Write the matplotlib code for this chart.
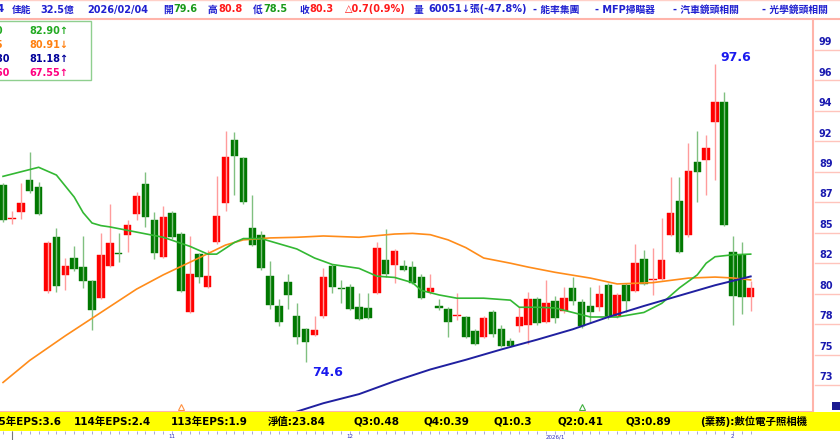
import matplotlib.pyplot as plt
from matplotlib.patches import Rectangle

plt.rcParams['font.family'] = ['DejaVu Sans', 'Noto Sans CJK TC']

# daily bars, oldest first; last bar is 2026/02/04
opens = [88.2, 85.6, 86.15, 88.6, 88.1, 80.05, 84.2, 81.3, 82.6, 81.9,
         80.8, 79.5, 82.0, 82.95, 84.4, 86.0, 88.3, 85.5, 82.7, 86.1,
         84.45, 78.4, 82.9, 80.4, 83.8, 86.85, 91.7, 90.3, 84.9, 84.4,
         81.2, 78.9, 80.75, 78.1, 77.1, 76.65, 78.1, 82.0, 80.25, 80.4,
         78.8, 78.75, 79.9, 82.45, 82.05, 82.0, 81.9, 81.1, 80.0, 78.9,
         78.7, 78.1, 78.05, 77.0, 76.5, 78.4, 77.1, 76.2, 77.35, 77.4,
         79.4, 77.7, 79.3, 78.5, 80.3, 79.2, 78.9, 78.8, 80.5, 78.1,
         80.5, 80.05, 82.5, 80.9, 81.0, 84.4, 87.0, 84.4, 90.0, 90.2,
         93.1, 94.6, 83.1, 82.8, 79.6]
highs = [88.4, 86.2, 88.4, 90.8, 88.5, 83.9, 84.9, 82.6, 83.5, 84.3,
         80.9, 84.5, 86.8, 84.5, 85.5, 87.7, 89.2, 86.15, 86.6, 86.2,
         84.6, 84.3, 83.0, 83.2, 88.9, 92.4, 92.3, 90.4, 87.5, 84.7,
         82.4, 79.4, 81.4, 79.1, 77.2, 78.1, 81.8, 82.1, 80.9, 80.6,
         79.9, 79.9, 83.8, 84.8, 83.3, 82.45, 82.4, 81.4, 81.4, 79.4,
         78.8, 79.9, 78.1, 77.1, 78.1, 78.6, 77.4, 76.4, 78.8, 80.0,
         79.6, 80.9, 79.7, 80.4, 81.1, 79.4, 80.4, 80.5, 80.7, 79.9,
         80.7, 83.7, 83.2, 83.4, 85.7, 88.85, 88.85, 91.5, 92.4, 92.1,
         97.6, 95.4, 84.3, 83.8, 80.8]
lows = [85.4, 85.2, 85.6, 87.6, 85.9, 79.9, 80.0, 80.1, 81.6, 80.3,
        77.05, 79.4, 81.9, 82.3, 83.1, 85.5, 85.0, 82.5, 82.6, 84.1,
        80.0, 78.35, 80.7, 80.3, 83.7, 86.2, 87.5, 86.8, 83.5, 81.7,
        78.7, 77.35, 78.7, 76.0, 74.6, 76.6, 78.0, 79.9, 79.1, 78.6,
        77.8, 77.9, 79.8, 81.1, 80.7, 81.6, 80.6, 79.4, 79.8, 78.6,
        76.5, 77.8, 76.4, 75.9, 76.4, 76.5, 75.7, 75.7, 76.9, 76.0,
        77.4, 77.6, 77.6, 78.35, 79.0, 77.2, 77.6, 78.5, 77.9, 78.0,
        78.4, 80.0, 80.5, 79.75, 80.9, 84.3, 83.0, 84.2, 86.9, 87.5,
        88.6, 85.1, 77.4, 78.3, 78.5]
closes = [85.5, 85.7, 86.85, 87.8, 86.0, 83.75, 80.45, 82.0, 81.75, 80.8,
          78.6, 82.8, 83.75, 82.9, 85.15, 87.4, 85.75, 83.0, 85.75, 84.2,
          80.05, 81.35, 81.1, 81.2, 85.85, 90.4, 90.5, 86.9, 83.6, 81.8,
          79.0, 77.7, 79.75, 76.5, 76.1, 77.05, 81.1, 80.4, 80.2, 78.7,
          77.9, 78.0, 83.4, 81.4, 83.15, 81.7, 80.7, 79.5, 80.3, 78.75,
          77.7, 78.2, 76.5, 76.0, 78.0, 76.7, 75.8, 75.8, 78.05, 79.4,
          77.6, 79.1, 78.0, 79.5, 79.3, 77.35, 78.4, 79.8, 78.05, 79.75,
          79.3, 82.2, 80.6, 81.0, 82.45, 86.1, 83.1, 89.3, 89.25, 91.1,
          94.6, 85.15, 79.7, 79.6, 80.3]

# moving averages at some bars
ma1_idx = [0, 4, 6, 8, 9, 10, 11, 12, 15, 18, 21, 23, 24, 26, 27, 29, 33, 35,
           37, 40, 42, 44, 46, 47, 49, 51, 54, 57, 58, 60, 62, 66, 69, 72, 74,
           76, 78, 79, 80, 82, 84]
ma1 = [88.9, 89.6, 89.0, 87.3, 86.1, 85.3, 85.1, 85.0, 84.6, 84.2, 83.5, 82.9,
       82.9, 83.8, 84.1, 84.1, 83.3, 82.6, 82.1, 81.8, 81.2, 81.1, 80.7, 80.1,
       79.75, 79.5, 79.5, 79.35, 78.8, 78.8, 78.75, 78.05, 78.05, 78.4, 79.1,
       80.3, 81.3, 82.2, 82.7, 82.85, 82.9]
ma2_idx = [0, 3, 7, 11, 15, 18, 22, 25, 27, 30, 33, 36, 40, 44, 46, 48, 50, 52,
           54, 57, 59, 62, 66, 69, 73, 77, 80, 82, 84]
ma2 = [73.0, 74.7, 76.6, 78.4, 80.2, 81.3, 82.6, 83.6, 84.0, 84.15, 84.2, 84.3,
       84.2, 84.45, 84.5, 84.4, 84.0, 83.4, 82.6, 82.2, 81.9, 81.5, 81.05, 80.6,
       80.7, 81.05, 81.13, 81.06, 80.91]
ma3_idx = [29, 33, 36, 40, 44, 48, 52, 56, 60, 64, 68, 72, 76, 80, 84]
ma3 = [69.9, 70.75, 71.4, 72.1, 73.1, 74.0, 74.75, 75.55, 76.3, 77.1, 78.05,
       78.9, 79.7, 80.5, 81.18]

legend_names = ['MA20', 'MA65', 'MA180', 'MA260']
legend_vals = ['82.90↑', '80.91↓', '81.18↑', '67.55↑']
legend_colors = ['#22aa22', '#ff8010', '#000099', '#ff0080']

right_ticks = [72.8, 75.15, 77.5, 79.85, 82.2, 84.55, 86.9, 89.25, 91.6,
               93.95, 96.3, 98.65]
right_labels = ['73', '75', '78', '80', '82', '85', '87', '89', '92', '94',
                '96', '99']

month_idx = [19, 39, 62, 82]
month_labels = ['11', '12', '2026/1', '2']
cross_idx = [20, 65]
cross_colors = ['#ff9040', '#40b040']

W, H = 840, 440
fig = plt.figure(figsize=(W / 100, H / 100), dpi=100)
BLUE = '#2020d0'


def ftext(x, y, s, **kw):
    fig.text(x / W, 1 - y / H, s, **kw)


# ---- main price panel
ax = fig.add_axes([0, 1 - 412 / H, 813 / W, (412 - 19) / H])
ax.set_xlim(-0.34, 91.0)
ax.set_ylim(70.72, 101.04)
ax.set_xticks([])
ax.set_yticks([])
for s in ['left', 'top']:
    ax.spines[s].set_visible(False)
for s in ['right', 'bottom']:
    ax.spines[s].set_color('#ffb4aa')
    ax.spines[s].set_linewidth(1.5)

for i in range(len(closes)):
    up = closes[i] >= opens[i]
    body = '#ff0000' if up else '#007800'
    wick = '#ff9c9c' if up else '#80c080'
    ax.vlines(i, lows[i], highs[i], color=wick, lw=1)
    lo = min(opens[i], closes[i])
    h = max(abs(closes[i] - opens[i]), 0.09)
    ax.add_patch(Rectangle((i - 0.42, lo), 0.84, h, fc=body, ec=body, lw=0.3))

ax.plot(ma2_idx, ma2, color='#ff8c1a', lw=1.2)
ax.plot(ma1_idx, ma1, color='#33b833', lw=1.2)
ax.plot(ma3_idx, ma3, color='#2020a0', lw=1.4)

hi = highs.index(max(highs))
lo_i = lows.index(min(lows))
ax.text(hi + 0.6, max(highs) + 0.5, f'{max(highs):.1f}', color='#1a1aee',
        fontsize=9, fontweight='bold', va='center', ha='left')
ax.text(lo_i + 0.7, min(lows) - 0.8, f'{min(lows):.1f}', color='#1a1aee',
        fontsize=9, fontweight='bold', va='center', ha='left')

for i, c in zip(cross_idx, cross_colors):
    ax.plot([i], [0.012], marker='^', ms=4, mfc='none', mec=c, mew=0.8,
            transform=ax.get_xaxis_transform(), clip_on=False)

# ---- right price scale
axr = fig.add_axes([813 / W, 1 - 412 / H, 27 / W, (412 - 19) / H])
axr.set_ylim(70.72, 101.04)
axr.set_xlim(0, 1)
axr.axis('off')
for v, lab in zip(right_ticks, right_labels):
    axr.plot([0.08, 1], [v, v], color='#ffc4bc', lw=1)
    axr.text(0.22, v + 0.22, lab, color='#1a1ab0', fontsize=7,
             fontweight='bold', va='bottom', ha='left')
fig.patches.append(Rectangle((832 / W, 1 - 410 / H), 8 / W, 8 / H,
                             transform=fig.transFigure, fc='#1a1a90', ec='none'))

# ---- header line
fig.add_artist(plt.Line2D([0, 1], [1 - 19 / H, 1 - 19 / H], color='#ffb4aa',
                          lw=1.5, transform=fig.transFigure))
fig.add_artist(plt.Line2D([0, 1], [1 - 0.5 / H, 1 - 0.5 / H], color='#ffd0c8',
                          lw=1, transform=fig.transFigure))
hy = 9.5
ftext(4, hy, '2374', color=BLUE, fontsize=7.5, fontweight='bold', ha='right', va='center')
header = [
    (12, '佳能', BLUE), (40, '32.5億', BLUE), (87, '2026/02/04', BLUE),
    (163, '開', BLUE), (173, '79.6', '#1a9a1a'),
    (208, '高', BLUE), (218, '80.8', '#ff1a1a'),
    (253, '低', BLUE), (263, '78.5', '#1a9a1a'),
    (299, '收', BLUE), (309, '80.3', '#ff1a1a'),
    (345, '△0.7(0.9%)', '#ff1a1a'),
    (414, '量', BLUE), (428, '60051↓張(-47.8%)', BLUE),
    (533, '- 能率集團', BLUE), (595, '- MFP掃瞄器', BLUE),
    (673, '- 汽車鏡頭相關', BLUE), (762, '- 光學鏡頭相關', BLUE),
]
for x, s, c in header:
    ftext(x, hy, s, color=c, fontsize=7.0, fontweight='bold', va='center', ha='left')

# ---- MA legend box
fig.patches.append(Rectangle((-2 / W, 1 - 80 / H), 93 / W, 59 / H,
                             transform=fig.transFigure, fc='white',
                             ec='#8fcf8f', lw=1))
for k in range(4):
    ry = 31 + 14 * k
    ftext(-28, ry, legend_names[k], color=legend_colors[k], fontsize=7,
          fontweight='bold', va='center', ha='left')
    ftext(29, ry, legend_vals[k], color=legend_colors[k], fontsize=7,
          fontweight='bold', va='center', ha='left')

# ---- yellow info bar
fig.patches.append(Rectangle((0, 1 - 431 / H), 1, 19 / H,
                             transform=fig.transFigure, fc='#ffff00', ec='none'))
info = [
    (62, '115年EPS:3.6', 'right'), (74, '114年EPS:2.4', 'left'),
    (171, '113年EPS:1.9', 'left'), (268, '淨值:23.84', 'left'),
    (354, 'Q3:0.48', 'left'), (423, 'Q4:0.39', 'left'),
    (494, 'Q1:0.3', 'left'), (557, 'Q2:0.41', 'left'),
    (625, 'Q3:0.89', 'left'), (700, '(業務):數位電子照相機', 'left'),
]
for x, s, ha in info:
    ftext(x, 421.5, s, color='black', fontsize=7.5, fontweight='bold',
          va='center', ha=ha)

# ---- date axis strip
axd = fig.add_axes([0, 0, 813 / W, 9 / H])
axd.set_xlim(-0.34, 91.0)
axd.set_ylim(0, 1)
axd.axis('off')
axd.vlines(range(len(closes)), 0.72, 1.0, color='#9a9ad0', lw=0.6)
axd.vlines([1], 0.0, 1.0, color='#777777', lw=0.8)
for i, lab in zip(month_idx, month_labels):
    axd.text(i, 0.35, lab, color='#3030c0', fontsize=4, ha='center', va='center')

fig.savefig('out.png', dpi=100)
